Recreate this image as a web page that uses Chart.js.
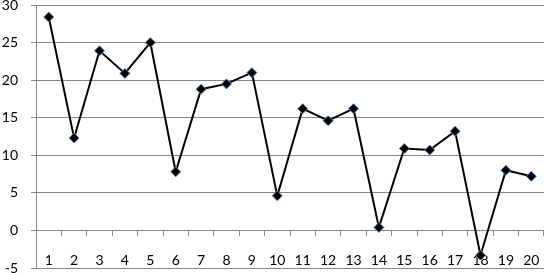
<!DOCTYPE html>
<html lang="en">
<head>
    <meta charset="UTF-8">
    <title>Line Chart</title>
    <script src="https://cdn.jsdelivr.net/npm/chart.js@4.4.1/dist/chart.umd.min.js"></script>
    <style>
        html, body {
            margin: 0;
            padding: 0;
            background: #ffffff;
        }
        .chart-box {
            width: 544px;
            height: 273px;
            position: relative;
        }
    </style>
</head>
<body>
    <div class="chart-box">
        <canvas id="line-chart"></canvas>
    </div>

    <script>
        const categories = ['1', '2', '3', '4', '5', '6', '7', '8', '9', '10',
                            '11', '12', '13', '14', '15', '16', '17', '18', '19', '20'];
        const seriesValues = [28.4, 12.3, 23.9, 20.9, 25.0, 7.8, 18.8, 19.5, 21.0, 4.6,
                              16.2, 14.6, 16.2, 0.4, 10.9, 10.7, 13.2, -3.3, 8.0, 7.2];
        const yMin = -5, yMax = 30, yStep = 5;

        const gridGray = '#868686';

        const ctx = document.getElementById('line-chart').getContext('2d');
        new Chart(ctx, {
            type: 'line',
            data: {
                labels: categories,
                datasets: [{
                    data: seriesValues,
                    borderColor: '#000000',
                    borderWidth: 2,
                    tension: 0,
                    pointStyle: 'rectRot',
                    pointRadius: 5,
                    pointBackgroundColor: '#000000',
                    pointBorderColor: '#5b7fb0',
                    pointBorderWidth: 1
                }]
            },
            options: {
                responsive: true,
                maintainAspectRatio: false,
                animation: false,
                // no auto padding for the markers, the plot runs to the right edge
                layout: { autoPadding: false, padding: { top: 5, bottom: 5, left: 0, right: 0 } },
                plugins: {
                    legend: { display: false },
                    tooltip: { enabled: false }
                },
                scales: {
                    x: {
                        position: { y: 0 },
                        offset: true,
                        grid: {
                            offset: true,
                            drawOnChartArea: false,
                            tickLength: 5,
                            color: gridGray
                        },
                        border: { display: true, color: gridGray, width: 1 },
                        ticks: {
                            color: '#000000',
                            padding: 17,
                            maxRotation: 0,
                            autoSkip: false,
                            font: { family: 'Lato', size: 14 }
                        },
                        afterFit: s => { s.paddingLeft = 0; s.paddingRight = 0; }
                    },
                    y: {
                        min: yMin,
                        max: yMax,
                        grid: {
                            color: gridGray,
                            lineWidth: 1,
                            tickLength: 5
                        },
                        border: { display: true, color: gridGray, width: 1 },
                        ticks: {
                            stepSize: yStep,
                            color: '#000000',
                            padding: 13,
                            font: { family: 'Lato', size: 14 }
                        },
                        afterFit: s => { s.width = 36; s.paddingTop = 0; s.paddingBottom = 0; }
                    }
                }
            }
        });
    </script>
</body>
</html>
